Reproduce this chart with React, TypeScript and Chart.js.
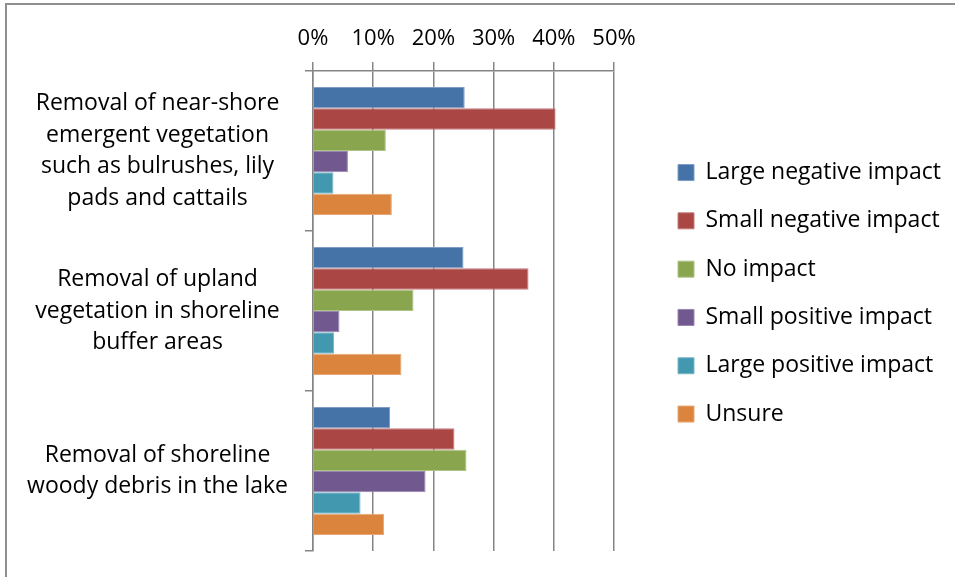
import React, { useEffect, useRef } from 'react';
import { Chart, registerables } from 'chart.js';

Chart.register(...registerables);

// ---- data ----
const categories: string[][] = [
  ['Removal of near-shore', 'emergent vegetation', 'such as bulrushes, lily', 'pads and cattails'],
  ['Removal of upland', 'vegetation in shoreline', 'buffer areas'],
  ['Removal of shoreline', 'woody debris in the lake'],
];
const seriesNames = [
  'Large negative impact',
  'Small negative impact',
  'No impact',
  'Small positive impact',
  'Large positive impact',
  'Unsure',
];
const largeNegative = [25.2, 25.0, 12.8];
const smallNegative = [40.3, 35.8, 23.5];
const noImpact = [12.1, 16.7, 25.5];
const smallPositive = [5.8, 4.4, 18.7];
const largePositive = [3.4, 3.5, 7.9];
const unsure = [13.1, 14.7, 11.8];
const xTickValues = [0, 10, 20, 30, 40, 50];

const seriesValues = [largeNegative, smallNegative, noImpact, smallPositive, largePositive, unsure];
const seriesColors = ['#4572A7', '#AA4643', '#89A54E', '#71588F', '#4198AF', '#DB843D'];
const seriesEdge = ['#7e9cc4', '#c57c7a', '#aec487', '#9986b0', '#7ab8c9', '#e8a875'];

const FONT = 'Open Sans';
const FS = 23;
const GRID = '#858585';

const legendFix = {
  id: 'legendFix',
  beforeUpdate(chart: any) {
    const lg = chart.legend;
    if (lg && !lg._patched) {
      const orig = lg.fit.bind(lg);
      lg.fit = function () {
        orig();
        this.width = 341;
      };
      lg._patched = true;
    }
  },
  afterLayout(chart: any) {
    const lg = chart.legend;
    if (!lg) return;
    lg.left += 38.7;
    lg.right += 38.7;
    lg.top += 17.8;
    lg.bottom += 17.8;
  },
};

export default function App() {
  const ref = useRef<HTMLCanvasElement>(null);

  useEffect(() => {
    if (!ref.current) return;
    const chart = new Chart(ref.current, {
      type: 'bar',
      data: {
        labels: categories,
        datasets: seriesNames.map((name, i) => ({
          label: name,
          data: seriesValues[i],
          backgroundColor: seriesColors[i],
          borderColor: seriesEdge[i],
          borderWidth: 1,
          categoryPercentage: 0.8,
          barPercentage: 1.0,
        })),
      },
      options: {
        indexAxis: 'y',
        animation: false,
        responsive: false,
        maintainAspectRatio: false,
        layout: { padding: { left: 0, top: 0, right: 0, bottom: 26 } },
        color: '#000',
        plugins: {
          tooltip: { enabled: false },
          legend: {
            position: 'right',
            align: 'center',
            labels: {
              boxWidth: 16,
              boxHeight: 16,
              padding: 25.3,
              color: '#000',
              font: { family: FONT, size: FS },
            },
          },
        },
        scales: {
          x: {
            position: 'top',
            min: 0,
            max: 50,
            afterBuildTicks: (scale: any) => {
              scale.ticks = xTickValues.map((v) => ({ value: v }));
            },
            afterFit: (scale: any) => {
              scale.height = 71;
              scale.paddingLeft = 0;
              scale.paddingRight = 0;
            },
            ticks: {
              color: '#000',
              padding: 10,
              maxRotation: 0,
              font: { family: FONT, size: 22, lineHeight: 1.2 },
              callback: (v: any) => v + '%',
            },
            grid: {
              color: GRID,
              lineWidth: 1.5,
              tickLength: 9,
              tickColor: GRID,
              drawTicks: true,
            },
            border: { display: true, color: GRID, width: 1.5 },
          },
          y: {
            position: 'left',
            afterFit: (scale: any) => {
              scale.width = 313;
              scale.paddingTop = 0;
              scale.paddingBottom = 0;
            },
            ticks: {
              color: '#000',
              crossAlign: 'center',
              padding: 17,
              autoSkip: false,
              font: { family: FONT, size: FS, lineHeight: 1.378 },
            },
            grid: {
              offset: true,
              drawOnChartArea: false,
              drawTicks: true,
              tickLength: 8,
              lineWidth: 1.5,
              color: GRID,
              tickColor: GRID,
            },
            border: { display: true, color: GRID, width: 1.5 },
          },
        },
      },
      plugins: [legendFix],
    } as any);
    return () => chart.destroy();
  }, []);

  return (
    <div
      style={{
        position: 'fixed',
        left: 0,
        top: 0,
        width: 955,
        height: 577,
        overflow: 'hidden',
        background: '#fff',
      }}
    >
      <div
        style={{
          position: 'absolute',
          left: 5,
          top: 3,
          width: 1200,
          height: 1200,
          border: '2px solid #8f8f8f',
          boxSizing: 'border-box',
        }}
      />
      <canvas
        ref={ref}
        width={955}
        height={577}
        style={{ position: 'absolute', left: 0, top: 0, width: 955, height: 577, display: 'block' }}
      />
    </div>
  );
}
